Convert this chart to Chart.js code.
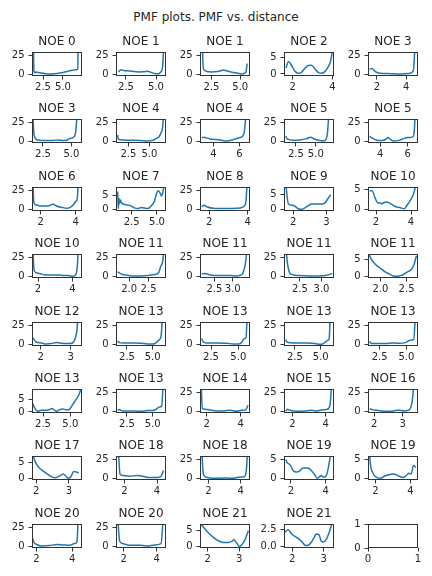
<!DOCTYPE html>
<html>
<head>
<meta charset="utf-8">
<script src="https://cdn.jsdelivr.net/npm/chart.js@4.4.0/dist/chart.umd.min.js"></script>
<style>
  body { margin: 0; background: #fff; }
  #fig { position: relative; width: 432px; height: 576px; overflow: hidden; }
  #fig canvas { position: absolute; }
  #suptitle { position: absolute; left: 0; top: 10px; width: 432px; text-align: center;
    font: 12px 'DejaVu Sans'; line-height: 14px; color: #262626; }
</style>
</head>
<body>
<div id="fig">
  <div id="suptitle">PMF plots. PMF vs. distance</div>
</div>
<script>
// Subplot titles, row by row (5 per row, last one is the empty axes)
const titles = ['NOE 0', 'NOE 1', 'NOE 1', 'NOE 2', 'NOE 3',
  'NOE 3', 'NOE 4', 'NOE 4', 'NOE 5', 'NOE 5',
  'NOE 6', 'NOE 7', 'NOE 8', 'NOE 9', 'NOE 10',
  'NOE 10', 'NOE 11', 'NOE 11', 'NOE 11', 'NOE 11',
  'NOE 12', 'NOE 13', 'NOE 13', 'NOE 13', 'NOE 13',
  'NOE 13', 'NOE 13', 'NOE 14', 'NOE 15', 'NOE 16',
  'NOE 17', 'NOE 18', 'NOE 18', 'NOE 19', 'NOE 19',
  'NOE 20', 'NOE 20', 'NOE 21', 'NOE 21', ''];

const xLimits = [[1.12, 7.38], [1.67, 5.83], [1.5, 5.85], [1.57, 4.08], [1.39, 4.8],
  [1.53, 5.94], [1.03, 6.98], [2.97, 6.82], [1.0, 7.29], [3.1, 6.76],
  [1.5, 4.36], [0.95, 5.89], [1.53, 4.12], [1.72, 3.23], [1.54, 4.4],
  [1.65, 4.56], [1.66, 2.95], [2.11, 3.47], [2.13, 3.29], [1.76, 2.72],
  [1.71, 3.38], [1.43, 6.3], [1.49, 6.07], [1.44, 6.28], [1.41, 6.09],
  [1.49, 6.07], [1.43, 6.3], [1.61, 4.55], [1.5, 4.5], [1.78, 3.54],
  [1.87, 3.4], [1.49, 4.55], [1.48, 4.58], [1.6, 4.48], [1.58, 4.44],
  [1.76, 4.54], [1.54, 4.57], [1.76, 3.34], [1.74, 3.33], [0, 1]];

const yFull = [-2.2, 28.9];
const yLimits = [yFull, yFull, yFull, [-0.6, 6.5], yFull,
  yFull, yFull, yFull, yFull, yFull,
  yFull, [-0.47, 7.8], yFull, [-0.45, 7.55], [-0.33, 5.67],
  yFull, yFull, yFull, yFull, [-0.5, 6.5],
  yFull, yFull, yFull, yFull, yFull,
  [-0.4, 9.05], yFull, yFull, yFull, yFull,
  [-0.43, 7.17], yFull, yFull, [-0.36, 5.9], [-0.36, 5.9],
  yFull, yFull, [-0.41, 6.94], [-0.2, 3.33], [0, 1]];

const xTickLabels = [['2.5', '5.0'], ['2.5', '5.0'], ['2.5', '5.0'], ['2', '4'], ['2', '4'],
  ['2.5', '5.0'], ['2.5', '5.0'], ['4', '6'], ['2.5', '5.0'], ['4', '6'],
  ['2', '4'], ['2.5', '5.0'], ['2', '4'], ['2', '3'], ['2', '4'],
  ['2', '4'], ['2.0', '2.5'], ['2.5', '3.0'], ['2.5', '3.0'], ['2.0', '2.5'],
  ['2', '3'], ['2.5', '5.0'], ['2.5', '5.0'], ['2.5', '5.0'], ['2.5', '5.0'],
  ['2.5', '5.0'], ['2.5', '5.0'], ['2', '4'], ['2', '4'], ['2', '3'],
  ['2', '3'], ['2', '4'], ['2', '4'], ['2', '4'], ['2', '4'],
  ['2', '4'], ['2', '4'], ['2', '3'], ['2', '3'], ['0', '1']];

const y25 = ['0', '25'];
const y5 = ['0', '5'];
const yTickLabels = [y25, y25, y25, y5, y25,
  y25, y25, y25, y25, y25,
  y25, y5, y25, y5, y5,
  y25, y25, y25, y25, y5,
  y25, y25, y25, y25, y25,
  y5, y25, y25, y25, y25,
  y5, y25, y25, y5, y5,
  y25, y25, y5, ['0.0', '2.5'], ['0', '1']];

// distance values for each curve
const xs = [
  [1.3, 1.35, 1.45, 1.6, 1.9, 2.3, 2.7, 3.0, 3.4, 3.8, 4.2, 4.6, 5.0, 5.4, 5.8, 6.2, 6.6, 6.85, 6.9, 7.1],
  [1.86, 2.0, 2.1, 2.3, 2.6, 3.0, 3.5, 4.0, 4.3, 4.6, 4.9, 5.15, 5.4, 5.55, 5.64],
  [1.7, 1.78, 1.9, 2.1, 2.5, 3.0, 3.3, 3.5, 3.8, 4.2, 4.6, 5.0, 5.2, 5.4, 5.5, 5.6],
  [1.67, 1.8, 1.95, 2.12, 2.28, 2.45, 2.62, 2.78, 2.95, 3.12, 3.28, 3.45, 3.62, 3.78, 3.92, 4.0],
  [1.5, 1.66, 1.89, 2.23, 2.7, 3.2, 3.6, 4.16, 4.39, 4.5, 4.6],
  [1.59, 1.65, 1.71, 1.91, 2.21, 2.6, 3.09, 3.5, 3.82, 4.27, 4.56, 4.85, 5.21, 5.38, 5.53],
  [1.23, 1.31, 1.82, 2.42, 3.21, 4.0, 4.8, 5.4, 5.79, 6.19, 6.39, 6.59, 6.7],
  [3.1, 3.23, 3.74, 4.51, 5.02, 5.54, 5.92, 6.25, 6.38, 6.48, 6.6],
  [1.21, 1.42, 2.17, 3.0, 3.83, 4.33, 4.88, 5.5, 6.0, 6.25, 6.46, 6.67],
  [3.22, 3.39, 3.76, 4.12, 4.44, 4.56, 4.73, 4.98, 5.34, 5.71, 6.07, 6.39, 6.49, 6.56],
  [1.54, 1.61, 1.75, 2.03, 2.41, 2.7, 2.89, 3.27, 3.46, 3.69, 3.84, 4.0, 4.09, 4.15],
  [1.11, 1.18, 1.25, 1.31, 1.38, 1.51, 1.94, 2.43, 2.76, 3.09, 3.42, 3.75, 4.08, 4.4, 4.73, 4.96, 5.13, 5.29, 5.46, 5.59, 5.72],
  [1.62, 1.74, 1.88, 2.22, 2.91, 3.43, 3.69, 3.82, 3.91, 3.98],
  [1.77, 1.85, 2.0, 2.15, 2.25, 2.35, 2.45, 2.55, 2.7, 2.85, 2.95, 3.05, 3.13],
  [1.64, 1.77, 1.96, 2.1, 2.25, 2.34, 2.44, 2.59, 2.82, 3.1, 3.39, 3.62, 3.77, 3.96, 4.15, 4.3],
  [1.69, 1.77, 1.9, 2.1, 2.39, 2.88, 3.27, 3.46, 3.75, 4.04, 4.2, 4.3, 4.35],
  [1.7, 1.81, 1.96, 2.13, 2.31, 2.48, 2.65, 2.76, 2.81, 2.87, 2.9],
  [2.16, 2.25, 2.38, 2.66, 2.93, 3.11, 3.2, 3.27, 3.34, 3.4],
  [2.17, 2.21, 2.27, 2.35, 2.5, 2.73, 2.96, 3.12, 3.25],
  [1.77, 1.82, 1.9, 2.0, 2.09, 2.19, 2.25, 2.32, 2.38, 2.45, 2.51, 2.59, 2.64, 2.69],
  [1.73, 1.85, 2.02, 2.19, 2.35, 2.52, 2.63, 2.8, 2.97, 3.08, 3.13, 3.21, 3.25],
  [1.59, 1.75, 2.08, 3.22, 3.87, 4.51, 5.0, 5.33, 5.65, 5.81, 5.98],
  [1.64, 1.79, 2.1, 3.01, 3.93, 4.54, 5.0, 5.3, 5.55, 5.7, 5.82],
  [1.6, 1.76, 2.34, 3.62, 4.42, 5.06, 5.38, 5.7, 5.8, 5.93],
  [1.57, 1.69, 2.25, 3.19, 3.66, 4.28, 4.91, 5.38, 5.69, 5.85],
  [1.55, 1.73, 2.04, 2.34, 2.8, 3.1, 3.32, 3.56, 3.78, 4.02, 4.33, 4.63, 4.94, 5.18, 5.49, 5.79, 6.0],
  [1.59, 1.75, 2.08, 3.22, 3.87, 4.51, 5.0, 5.33, 5.65, 5.88, 6.04],
  [1.67, 1.75, 1.9, 2.29, 2.78, 3.37, 3.76, 4.06, 4.31, 4.43],
  [1.6, 1.7, 1.86, 2.26, 2.75, 3.15, 3.45, 3.75, 4.04, 4.2, 4.3, 4.35],
  [1.84, 1.92, 2.1, 2.45, 2.68, 2.86, 3.04, 3.21, 3.33, 3.41],
  [1.89, 1.95, 2.05, 2.16, 2.31, 2.46, 2.56, 2.67, 2.77, 2.82, 2.9, 2.97, 3.04, 3.15, 3.23, 3.3],
  [1.63, 1.73, 1.9, 2.31, 2.82, 3.22, 3.43, 3.84, 4.14, 4.29, 4.39],
  [1.58, 1.69, 1.89, 2.31, 3.13, 3.54, 3.85, 4.16, 4.26, 4.37, 4.43],
  [1.7, 1.79, 1.9, 2.04, 2.13, 2.32, 2.51, 2.7, 2.99, 3.18, 3.37, 3.5, 3.66, 3.75, 3.89, 4.0, 4.13, 4.29],
  [1.66, 1.75, 1.87, 2.0, 2.29, 2.48, 2.76, 3.05, 3.33, 3.62, 3.81, 3.91, 4.04, 4.19, 4.32],
  [1.8, 1.87, 2.0, 2.28, 2.74, 3.11, 3.48, 3.85, 4.13, 4.26, 4.33],
  [1.64, 1.76, 1.94, 2.35, 3.05, 3.46, 3.86, 4.27, 4.41],
  [1.79, 1.89, 2.03, 2.18, 2.34, 2.5, 2.66, 2.76, 2.83, 2.92, 3.0, 3.08, 3.18, 3.29],
  [1.77, 1.87, 1.98, 2.14, 2.3, 2.43, 2.51, 2.61, 2.72, 2.77, 2.85, 2.93, 3.0, 3.09, 3.17, 3.25],
  []
];

// PMF values for each curve (values above the axes top are clipped by the chart area)
const ys = [
  [40, 5, 2, 3, 2.4, 1.8, 1, 0.4, 0.3, 0.6, 1.1, 1.7, 2.3, 3.2, 4.5, 5.3, 5.8, 6.5, 40, 40],
  [3, 5, 6, 5, 4.5, 4, 3, 3.2, 3.8, 2.5, 1, 0.5, 3, 10, 40],
  [40, 9, 5, 3.5, 3, 3.5, 4.5, 5.5, 4.5, 3, 2, 0.8, 0.5, 1.5, 3, 14],
  [1.8, 3.7, 2.5, 0.8, 0.2, 0.5, 1.7, 2.5, 2.6, 1.5, 0.5, 0.2, 0.7, 2, 4, 7],
  [6.6, 7.5, 3.5, 1.3, 0.9, 0.6, 0.4, 0.9, 2.6, 6.6, 40],
  [40, 20, 8, 2.6, 1.3, 1, 0.9, 1.3, 1.8, 0.9, 1.3, 3.5, 5.7, 12, 40],
  [8, 2.6, 1.8, 1.3, 1.3, 0.9, 0.4, 1.3, 3.5, 6.6, 11, 19, 40],
  [4.4, 5.3, 3, 1.8, 0.4, 2.2, 4.4, 6.6, 12, 28, 40],
  [6.6, 3, 1.3, 1.8, 3.5, 5.3, 2.6, 0.9, 0.4, 2.2, 10, 40],
  [6.6, 4.4, 1.3, 0.9, 3, 4.8, 2.6, 0.4, 0.9, 3.5, 4.8, 5.7, 14, 40],
  [40, 8.6, 5.6, 4.3, 4.3, 6.5, 4.3, 2.2, 1.3, 2.6, 5.2, 10, 14, 40],
  [6.2, 0.35, 3.8, 2.1, 3.3, 2.3, 1.7, 1.3, 0.6, 0.35, 0.7, 0.6, 0.35, 1.2, 2.7, 5.6, 6.5, 5.8, 4.7, 6.2, 9],
  [3.4, 5.2, 3.4, 1.3, 0.9, 1.3, 2.2, 4.3, 10, 40],
  [9, 2, 1.4, 0.3, 0.1, 0.6, 1.3, 1.9, 1.9, 1.9, 2.2, 3.7, 5],
  [4.7, 4.75, 2.75, 1.7, 1.7, 1.5, 1.75, 1.9, 1.5, 0.8, 0.5, 0.25, 1.1, 2.3, 4, 6.5],
  [40, 8, 4.5, 3.6, 1.8, 1.8, 1.8, 0.9, 0.9, 0, 2.2, 17, 40],
  [5.8, 2.7, 1.3, 0.4, 0.4, 0.9, 2.2, 4.5, 12.5, 21, 40],
  [3.1, 3.6, 1.8, 0.9, 0.9, 0.4, 1.3, 3.6, 15, 40],
  [40, 17, 3.6, 1.8, 0.9, 0.4, 0.4, 1.3, 3.6],
  [6.8, 5, 3.5, 2.3, 1.3, 0.5, 0.1, 0, 0.2, 0.6, 1.2, 2, 3.3, 6],
  [8.8, 3, 1.8, 0.4, 0.9, 2.2, 1.8, 0.9, 0.9, 2.2, 5.3, 18, 40],
  [4.4, 2.2, 1.8, 1.8, 1.3, 0.4, 0.4, 1.8, 6.1, 9.6, 40],
  [7.5, 3, 1.8, 1.8, 1.3, 0.4, 0.4, 2.2, 7.5, 8.3, 40],
  [6, 2.6, 1.8, 1.8, 0.9, 0, 2.2, 5.3, 6, 40],
  [3.9, 0.9, 0.9, 0.9, 1.8, 1.3, 2.2, 5.3, 6.1, 40],
  [3.4, 1.6, 0.3, 0.7, 0.7, 0.95, 1.35, 0.7, 0.3, 0.95, 1.2, 0.8, 1.1, 2.7, 4.7, 6.8, 9.5],
  [1.3, 2.2, 0.4, 0.4, 0, 0.9, 0.9, 2.6, 5.6, 6.9, 40],
  [40, 3.4, 2.6, 1.3, 0.4, 1.3, 0, 1.3, 2.2, 7.8],
  [0, 2.6, 1.3, 0, 0.4, 1.3, 0.4, 1.7, 2.2, 4.3, 16, 40],
  [3.4, 2.2, 1.3, 0, 0.4, 1.7, 0.4, 1.3, 12, 40],
  [7.5, 5.8, 3.9, 2.8, 1.7, 0.65, 0.3, 0.55, 1.2, 1.5, 0.9, 0.1, 0.3, 2.3, 2.1, 1.8],
  [40, 5.8, 3.6, 2.7, 3.6, 2.2, 0.9, 0.9, 1.3, 4, 10],
  [40, 5, 1.3, 0, 0.4, 0, 1.3, 1.8, 2.7, 14, 40],
  [5, 4.1, 3.8, 2.9, 2.05, 1.7, 2.05, 2.8, 2.8, 2.05, 1, 0.1, 0.55, 0.8, 0.35, 0.55, 2.3, 6.5],
  [6.5, 2.8, 1.4, 0.55, 0.1, 0.55, 1, 1.2, 0.7, 0.3, 1, 1.4, 1.2, 3.4, 2.9],
  [10, 4.9, 2.7, 0.4, 0.9, 2.2, 1.8, 1.3, 3.6, 5.8, 40],
  [40, 7, 3.6, 1.3, 1.3, 0.4, 1.8, 3.6, 40],
  [6.9, 5.7, 4.2, 2.9, 1.8, 1.3, 1.3, 1.6, 2.1, 1.1, 0.1, 0.6, 2.1, 4.9],
  [2.1, 2.5, 1.86, 1.37, 0.78, 0.15, 0.2, 0.64, 1.52, 1.86, 1.76, 0.78, 0.69, 1.13, 2.0, 3.2],
  []
];

const textColor = '#262626';
const axisColor = '#333333';
const lineColor = '#1f77b4';
Chart.defaults.font.family = "'DejaVu Sans'";

// axes geometry (px)
const axW = 50, axH = 24;
const padL = 32, padR = 12, padT = 22, padB = 16;

// draws the full axes box (matplotlib spines)
const frame = {
  id: 'frame',
  afterDraw(chart) {
    const { ctx, chartArea: a } = chart;
    ctx.save();
    ctx.strokeStyle = axisColor;
    ctx.lineWidth = 1;
    ctx.strokeRect(a.left + 0.5, a.top + 0.5, a.right - a.left - 1, a.bottom - a.top - 1);
    ctx.restore();
  }
};

const fig = document.getElementById('fig');

titles.forEach((title, i) => {
  const row = Math.floor(i / 5), col = i % 5;
  const left = 32 + col * 84;
  const top = Math.round(51.7 + row * 67.45);

  const canvas = document.createElement('canvas');
  canvas.width = padL + axW + padR;
  canvas.height = padT + axH + padB;
  canvas.style.left = (left - padL) + 'px';
  canvas.style.top = (top - padT) + 'px';
  fig.appendChild(canvas);

  const xt = xTickLabels[i], yt = yTickLabels[i];

  new Chart(canvas.getContext('2d'), {
    type: 'line',
    data: {
      datasets: [{
        data: xs[i].map((x, j) => ({ x: x, y: ys[i][j] })),
        borderColor: lineColor,
        borderWidth: 1.5,
        pointRadius: 0,
        fill: false,
        cubicInterpolationMode: 'monotone'
      }]
    },
    options: {
      responsive: false,
      animation: false,
      layout: { padding: { left: 0, right: padR, top: 0, bottom: 0 } },
      plugins: {
        legend: { display: false },
        tooltip: { enabled: false },
        title: {
          display: true,
          fullSize: false,
          text: title,
          color: textColor,
          font: { size: 12, weight: 'normal' },
          padding: { top: 5, bottom: 2.6 }
        }
      },
      scales: {
        x: {
          type: 'linear',
          min: xLimits[i][0],
          max: xLimits[i][1],
          afterBuildTicks: s => { s.ticks = xt.map(t => ({ value: parseFloat(t) })); },
          afterFit: s => { s.height = padB; s.paddingLeft = 0; s.paddingRight = 0; },
          ticks: {
            callback: (v, idx) => xt[idx],
            color: textColor,
            font: { size: 10 },
            padding: 1.5,
            maxRotation: 0,
            autoSkip: false
          },
          grid: { display: true, drawOnChartArea: false, tickLength: 3.5, color: axisColor },
          border: { display: false }
        },
        y: {
          type: 'linear',
          min: yLimits[i][0],
          max: yLimits[i][1],
          afterBuildTicks: s => { s.ticks = yt.map(t => ({ value: parseFloat(t) })); },
          afterFit: s => { s.width = padL; s.paddingTop = 0; s.paddingBottom = 0; },
          ticks: {
            callback: (v, idx) => yt[idx],
            color: textColor,
            font: { size: 10 },
            padding: 4,
            autoSkip: false
          },
          grid: { display: true, drawOnChartArea: false, tickLength: 3.5, color: axisColor },
          border: { display: false }
        }
      }
    },
    plugins: [frame]
  });
});
</script>
</body>
</html>
